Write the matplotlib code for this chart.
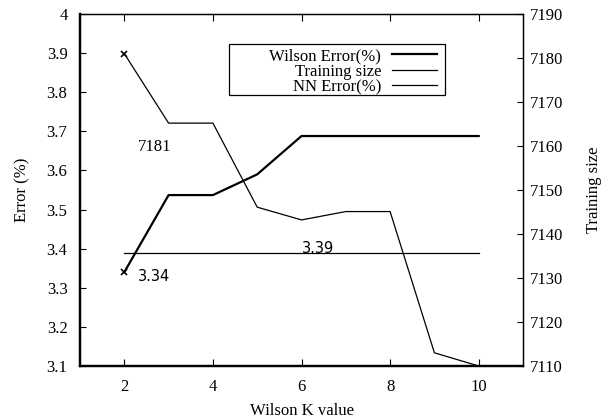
import matplotlib
matplotlib.use("Agg")
import matplotlib.pyplot as plt
from matplotlib.patches import Rectangle

plt.rcParams['font.family'] = ['Liberation Serif']
plt.rcParams['font.size'] = 12

# data
k_values = [2, 3, 4, 5, 6, 7, 8, 9, 10]
wilson_error = [3.34, 3.537, 3.537, 3.59, 3.688, 3.688, 3.688, 3.688, 3.688]
training_size = [7181, 7165.2, 7165.2, 7146.1, 7143.2, 7145.1, 7145.1, 7113.0, 7110.0]
nn_error = [3.39] * len(k_values)

fig = plt.figure(figsize=(6.07, 4.19), dpi=100)
ax = fig.add_axes([80/607, 1 - 366/419, 443/607, 352/419])
ax2 = ax.twinx()

l1, = ax.plot(k_values, wilson_error, color='black', lw=1.6)
l3, = ax.plot(k_values, nn_error, color='black', lw=0.9)
l2, = ax2.plot(k_values, training_size, color='black', lw=0.9)
# star on the first points
ax.plot(k_values[:1], wilson_error[:1], ls='none', marker='x', ms=4, mew=1.2, color='black')
ax2.plot(k_values[:1], training_size[:1], ls='none', marker='x', ms=4, mew=1.2, color='black')

ax.set_xlim(1, 11)
ax.set_ylim(3.1, 4.0)
ax2.set_ylim(7110, 7190)
ax.set_xticks([2, 4, 6, 8, 10])
ax.set_yticks([3.1, 3.2, 3.3, 3.4, 3.5, 3.6, 3.7, 3.8, 3.9, 4.0])
ax.set_yticklabels(['3.1', '3.2', '3.3', '3.4', '3.5', '3.6', '3.7', '3.8', '3.9', '4'])
ax2.set_yticks(range(7110, 7191, 10))

ax.tick_params(axis='x', direction='in', top=True, length=5, width=0.8, pad=9)
ax.tick_params(axis='y', direction='in', length=4, width=0.8, pad=9)
ax2.tick_params(axis='y', direction='in', length=4, width=0.8, pad=5)

for side in ['left', 'bottom']:
    ax.spines[side].set_linewidth(1.6)
    ax2.spines[side].set_linewidth(1.6)
for side in ['top', 'right']:
    ax.spines[side].set_linewidth(0.9)
    ax2.spines[side].set_linewidth(0.9)

ax.set_xlabel('Wilson K value', labelpad=6)
ax.set_ylabel('Error (%)', labelpad=12)
ax2.set_ylabel('Training size', labelpad=16)

ax.text(2.3, 3.66, '7181', ha='left', va='center')
ax.text(2.3, 3.328, '3.34', ha='left', va='center', family='DejaVu Sans', fontsize=10.5)
ax.text(6.0, 3.40, '3.39', ha='left', va='center', family='DejaVu Sans', fontsize=10.5)

# legend box (gnuplot style: wide frame, text right aligned, sample on the right)
x0 = (229 - 80) / 443
x1 = (445 - 80) / 443
y1 = 1 - (44 - 14) / 352
y0 = 1 - (95 - 14) / 352
ax2.add_patch(Rectangle((x0, y0), x1 - x0, y1 - y0, transform=ax2.transAxes,
                        facecolor='white', edgecolor='black', lw=0.9, zorder=5))
leg = ax2.legend([l1, l2, l3], ['Wilson Error(%)', 'Training size', 'NN Error(%)'],
                 loc='center right', bbox_to_anchor=(x1 - 0.018, (y0 + y1) / 2 - 0.006),
                 markerfirst=False, frameon=False, labelspacing=-0.02,
                 handlelength=2.7, handletextpad=0.65, borderpad=0, borderaxespad=0)
leg.set_zorder(6)
for t in leg.get_texts():
    t.set_ha('right')
leg._legend_box.align = 'right'

fig.savefig('out.png', dpi=100)
